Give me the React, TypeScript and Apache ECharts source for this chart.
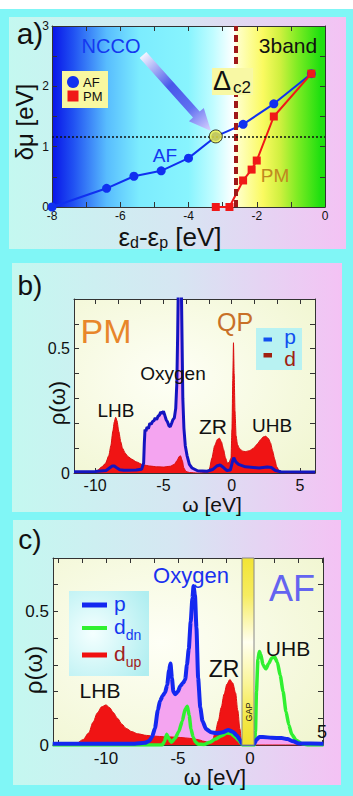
import React, { useEffect, useRef } from "react";
import * as echarts from "echarts";

const FONT = '"Liberation Sans", Arial, Helvetica, sans-serif';

// ---------------- Panel a : delta mu vs eps_d - eps_p ----------------
const afX = [-8, -6.4, -5.6, -4.8, -4.0, -3.2, -2.4, -1.5, -0.4];
const afY = [0, 0.31, 0.51, 0.6, 0.81, 1.17, 1.37, 1.71, 2.21];
const pmX = [-3.2, -2.8, -2.4, -2.15, -2.0, -1.5, -0.4];
const pmY = [0, 0, 0.44, 0.62, 0.77, 1.5, 2.21];
const nccoX = [-3.2];
const nccoY = [1.17];
const deltaC2 = -2.63;
const nccoLevel = 1.17;
const aXTicks = [-8, -7, -6, -5, -4, -3, -2, -1, 0];
const aXLabels = [-8, -6, -4, -2, 0];
const aYTicks = [0, 0.5, 1, 1.5, 2, 2.5, 3];
const aYLabels = [0, 1, 2, 3];

// ---------------- Panel b : PM spectral function ----------------
const bPx = [-11.55, -10.0, -9.2, -8.95, -8.75, -8.6, -8.45, -8.2, -7.9, -7.0, -6.6, -6.45, -6.4, -6.35, -6.28, -6.2, -6.1, -6.0, -5.9, -5.8, -5.7, -5.6, -5.5, -5.4, -5.3, -5.2, -5.1, -5.0, -4.9, -4.8, -4.7, -4.6, -4.5, -4.4, -4.3, -4.2, -4.1, -4.02, -3.96, -3.9, -3.7, -3.64, -3.58, -3.5, -3.4, -3.27, -3.1, -2.9, -2.5, -1.8, -1.4, -1.1, -0.85, -0.6, -0.35, -0.1, 0.05, 0.15, 0.3, 0.5, 1.0, 2.0, 2.6, 2.9, 3.2, 3.6, 6.1];
const bPy = [0.005, 0.006, 0.01, 0.02, 0.028, 0.028, 0.022, 0.013, 0.011, 0.012, 0.015, 0.04, 0.12, 0.175, 0.168, 0.185, 0.178, 0.2, 0.196, 0.207, 0.21, 0.222, 0.215, 0.228, 0.232, 0.245, 0.24, 0.248, 0.232, 0.214, 0.205, 0.19, 0.186, 0.2, 0.215, 0.222, 0.26, 0.36, 0.55, 0.8, 0.8, 0.55, 0.3, 0.18, 0.11, 0.07, 0.035, 0.02, 0.009, 0.007, 0.014, 0.028, 0.032, 0.022, 0.01, 0.012, 0.045, 0.062, 0.045, 0.035, 0.025, 0.02, 0.024, 0.022, 0.01, 0.005, 0.004];
const bDx = [-11.55, -10.2, -9.85, -9.5, -9.24, -9.0, -8.85, -8.7, -8.6, -8.5, -8.4, -8.27, -8.12, -8.0, -7.8, -7.6, -7.3, -7.0, -6.5, -6.0, -5.5, -5.0, -4.5, -4.2, -4.0, -3.85, -3.75, -3.62, -3.5, -3.35, -3.1, -2.5, -1.9, -1.65, -1.45, -1.25, -1.05, -0.9, -0.75, -0.6, -0.45, -0.32, -0.2, -0.05, 0.02, 0.08, 0.13, 0.18, 0.24, 0.32, 0.42, 0.55, 0.8, 1.0, 1.3, 1.6, 1.9, 2.1, 2.3, 2.5, 2.7, 2.85, 3.0, 3.15, 3.3, 3.5, 4.0, 6.1];
const bDy = [0, 0.002, 0.01, 0.025, 0.039, 0.07, 0.11, 0.17, 0.205, 0.224, 0.21, 0.167, 0.125, 0.1, 0.08, 0.066, 0.055, 0.045, 0.033, 0.028, 0.025, 0.024, 0.027, 0.035, 0.05, 0.066, 0.069, 0.05, 0.02, 0.006, 0.002, 0, 0.002, 0.012, 0.06, 0.11, 0.135, 0.14, 0.125, 0.095, 0.06, 0.04, 0.042, 0.06, 0.18, 0.38, 0.524, 0.4, 0.25, 0.15, 0.115, 0.1, 0.088, 0.086, 0.09, 0.1, 0.118, 0.133, 0.145, 0.148, 0.138, 0.12, 0.088, 0.055, 0.025, 0.006, 0, 0];
const bXTicks = [-10, -8.333, -6.667, -5, -3.333, -1.667, 0, 1.667, 3.333, 5];
const bXLabels = [-10, -5, 0, 5];
const rhoTicks = [0, 0.1, 0.2, 0.3, 0.4, 0.5, 0.6, 0.7];
const rhoLabels = [0, 0.5];

// ---------------- Panel c : AF spectral function ----------------
const cPx = [-13.7, -8.0, -7.3, -7.0, -6.8, -6.6, -6.4, -6.25, -6.05, -5.9, -5.75, -5.62, -5.52, -5.42, -5.32, -5.2, -5.0, -4.85, -4.65, -4.5, -4.38, -4.25, -4.12, -4.0, -3.92, -3.82, -3.72, -3.6, -3.45, -3.3, -3.05, -2.7, -2.3, -1.9, -1.5, -1.2, -0.9, -0.7, -0.55, 0.3, 0.45, 0.65, 0.9, 1.5, 2.2, 2.6, 3.0, 3.4, 5.1];
const cPy = [0.005, 0.005, 0.008, 0.015, 0.03, 0.063, 0.13, 0.165, 0.185, 0.196, 0.225, 0.28, 0.305, 0.25, 0.2, 0.19, 0.2, 0.22, 0.232, 0.245, 0.3, 0.36, 0.46, 0.55, 0.595, 0.56, 0.44, 0.25, 0.14, 0.09, 0.06, 0.048, 0.044, 0.048, 0.056, 0.05, 0.035, 0.02, 0.005, 0.005, 0.02, 0.03, 0.03, 0.027, 0.026, 0.022, 0.014, 0.006, 0.005];
const cUx = [-13.7, -12.5, -12.0, -11.6, -11.2, -10.9, -10.6, -10.3, -10.0, -9.75, -9.5, -9.2, -8.9, -8.6, -8.2, -7.8, -7.2, -6.6, -6.0, -5.4, -4.8, -4.2, -3.6, -3.2, -2.9, -2.6, -2.4, -2.2, -2.0, -1.8, -1.6, -1.4, -1.2, -1.0, -0.85, -0.7, -0.58, -0.5, 5.1];
const cUy = [0, 0.003, 0.008, 0.02, 0.045, 0.085, 0.12, 0.143, 0.15, 0.14, 0.122, 0.1, 0.078, 0.062, 0.05, 0.042, 0.036, 0.033, 0.031, 0.03, 0.028, 0.025, 0.02, 0.014, 0.01, 0.018, 0.05, 0.09, 0.14, 0.19, 0.228, 0.245, 0.232, 0.195, 0.13, 0.06, 0.01, 0, 0];
const cDx = [-13.7, -6.1, -5.95, -5.78, -5.62, -5.45, -5.2, -4.95, -4.7, -4.5, -4.35, -4.22, -4.1, -3.95, -3.8, -3.6, -3.2, -2.8, -2.4, -2.0, -1.6, -1.3, -1.0, -0.8, -0.6, -0.52, 0.3, 0.38, 0.45, 0.55, 0.65, 0.75, 0.9, 1.1, 1.3, 1.5, 1.7, 1.9, 2.1, 2.3, 2.5, 2.7, 2.9, 3.2, 3.6, 4.0, 5.1];
const cDy = [0, 0, 0.012, 0.04, 0.022, 0.01, 0.025, 0.05, 0.09, 0.135, 0.145, 0.11, 0.06, 0.03, 0.012, 0.003, 0.002, 0.01, 0.022, 0.034, 0.045, 0.042, 0.028, 0.017, 0.005, 0, 0, 0.05, 0.2, 0.32, 0.35, 0.34, 0.3, 0.285, 0.305, 0.325, 0.33, 0.31, 0.26, 0.2, 0.125, 0.075, 0.04, 0.018, 0.005, 0, 0];
const cXTicks = [-13.333, -11.667, -10, -8.333, -6.667, -5, -3.333, -1.667, 0, 1.667, 3.333, 5];
const cXLabels = [-10, -5, 0];

const zip = (xs: number[], ys: number[]) => xs.map((x, i) => [x, ys[i]]);

// grid rectangles (pixels)
const GA = { left: 52, top: 26, width: 273, height: 181 };
const GB = { left: 74, top: 299, width: 241, height: 174 };
const GC = { left: 53, top: 558, width: 270, height: 187 };

function axisPair(
  dim: "x" | "y",
  gi: number,
  min: number,
  max: number,
  ticks: number[],
  labels: number[],
  fs: number,
  margin: number
) {
  const base = (pos: string, showLabel: boolean) => ({
    type: "value",
    gridIndex: gi,
    min,
    max,
    position: pos,
    axisLine: { show: true, onZero: false, lineStyle: { color: "#333", width: 1 } },
    axisTick: { show: true, inside: true, length: 5, customValues: ticks, lineStyle: { color: "#333" } },
    axisLabel: {
      show: showLabel,
      customValues: labels,
      margin,
      fontSize: fs,
      color: "#111",
      fontFamily: FONT,
    },
    splitLine: { show: false },
  });
  return dim === "x"
    ? [base("bottom", true), base("top", false)]
    : [base("left", true), base("right", false)];
}

function text(x: number, y: number, t: string, size: number, color: string, extra: any = {}) {
  return {
    type: "text",
    x,
    y,
    z: 60,
    rotation: extra.rotation || 0,
    style: {
      text: t,
      fontSize: size,
      fontFamily: FONT,
      fontWeight: extra.weight || "normal",
      fill: color,
      align: extra.align || "center",
      verticalAlign: "middle",
      rich: extra.rich,
    },
  };
}

function subRich(main: number, sub: number, color: string, mainLH: number, pad: number) {
  return {
    m: { fontSize: main, fontFamily: FONT, fill: color, color, lineHeight: mainLH, verticalAlign: "top" },
    s: {
      fontSize: sub,
      fontFamily: FONT,
      fill: color,
      color,
      lineHeight: sub,
      verticalAlign: "top",
      padding: [pad, 0, 0, 0],
    },
  };
}

// arrow geometry (decoration)
const arrowTail = [143, 55];
const arrowTip = [211, 131];
function arrowPoints() {
  const dx = arrowTip[0] - arrowTail[0];
  const dy = arrowTip[1] - arrowTail[1];
  const L = Math.sqrt(dx * dx + dy * dy);
  const u = [dx / L, dy / L];
  const n = [-u[1], u[0]];
  const hw = 4.5, hh = 10, hl = 22;
  const N = [arrowTip[0] - u[0] * hl, arrowTip[1] - u[1] * hl];
  return [
    [arrowTail[0] + n[0] * hw, arrowTail[1] + n[1] * hw],
    [N[0] + n[0] * hw, N[1] + n[1] * hw],
    [N[0] + n[0] * hh, N[1] + n[1] * hh],
    arrowTip,
    [N[0] - n[0] * hh, N[1] - n[1] * hh],
    [N[0] - n[0] * hw, N[1] - n[1] * hw],
    [arrowTail[0] - n[0] * hw, arrowTail[1] - n[1] * hw],
  ];
}

const panelFill = {
  type: "linear",
  x: 0,
  y: 0,
  x2: 1,
  y2: 0,
  colorStops: [
    { offset: 0, color: "#c4f8f0" },
    { offset: 0.5, color: "#d6e6f2" },
    { offset: 1, color: "#f4c2f4" },
  ],
};

const creamFill = {
  type: "radial",
  x: 0.4,
  y: 0.45,
  r: 0.75,
  colorStops: [
    { offset: 0, color: "#fefff6" },
    { offset: 1, color: "#f1f6d2" },
  ],
};

function buildOption() {
  const xA = axisPair("x", 0, -8, 0, aXTicks, aXLabels, 12, 3);
  const yA = axisPair("y", 0, 0, 3, aYTicks, aYLabels, 12, 3);
  const xB = axisPair("x", 1, -11.55, 6.1, bXTicks, bXLabels, 16, 4);
  const yB = axisPair("y", 1, 0, 0.7, rhoTicks, rhoLabels, 16, 4);
  const xC = axisPair("x", 2, -13.68, 5.07, cXTicks, cXLabels, 17, 5);
  const yC = axisPair("y", 2, 0, 0.7, rhoTicks, rhoLabels, 17, 4);

  const graphic: any[] = [
    { type: "rect", z: -20, shape: { x: 0, y: 9, width: 353, height: 787 }, style: { fill: "#80f6f6" } },
    { type: "rect", z: -19, shape: { x: 9, y: 17, width: 337, height: 232 }, style: { fill: panelFill } },
    { type: "rect", z: -19, shape: { x: 12, y: 263, width: 330, height: 249 }, style: { fill: panelFill } },
    { type: "rect", z: -19, shape: { x: 13, y: 520, width: 328, height: 265 }, style: { fill: panelFill } },
    {
      type: "rect",
      z: -18,
      shape: { x: GA.left, y: GA.top, width: GA.width, height: GA.height },
      style: {
        fill: {
          type: "linear",
          x: 0,
          y: 0,
          x2: 1,
          y2: 0,
          colorStops: [
            { offset: 0, color: "#0814e8" },
            { offset: 0.077, color: "#2050f2" },
            { offset: 0.2, color: "#58bcfe" },
            { offset: 0.32, color: "#7cecfe" },
            { offset: 0.5, color: "#88f4fe" },
            { offset: 0.59, color: "#c0fcff" },
            { offset: 0.665, color: "#ffffff" },
            { offset: 0.68, color: "#ffffc8" },
            { offset: 0.773, color: "#fafa60" },
            { offset: 0.835, color: "#d0f040" },
            { offset: 0.897, color: "#80ec24" },
            { offset: 0.98, color: "#22e010" },
            { offset: 1, color: "#20e010" },
          ],
        },
      },
    },
    { type: "rect", z: -18, shape: { x: GB.left, y: GB.top, width: GB.width, height: GB.height }, style: { fill: creamFill } },
    { type: "rect", z: -18, shape: { x: GC.left, y: GC.top, width: GC.width, height: GC.height }, style: { fill: creamFill } },

    // ---- panel a decorations
    text(30, 33, "a)", 30, "#111"),
    text(111, 46, "NCCO", 20, "#1438f0"),
    text(288, 45, "3band", 21, "#111"),
    text(165, 155, "AF", 19, "#1438f0"),
    text(275, 175, "PM", 19, "#c08820"),
    {
      type: "polygon",
      z: 55,
      shape: { points: arrowPoints() },
      style: {
        fill: {
          type: "linear",
          x: arrowTail[0],
          y: arrowTail[1],
          x2: arrowTip[0],
          y2: arrowTip[1],
          global: true,
          colorStops: [
            { offset: 0, color: "#f4f4ff" },
            { offset: 0.4, color: "#4858ea" },
            { offset: 0.7, color: "#6070f0" },
            { offset: 1, color: "#dcd4ff" },
          ],
        },
      },
    },
    { type: "rect", z: 55, shape: { x: 62, y: 71, width: 46, height: 37 }, style: { fill: "#f8f8a0" } },
    { type: "circle", z: 56, shape: { cx: 73, cy: 82, r: 6 }, style: { fill: "#1030f0" } },
    { type: "rect", z: 56, shape: { x: 67.5, y: 90.5, width: 11, height: 11 }, style: { fill: "#f01818" } },
    text(83, 82, "AF", 13, "#111", { align: "left" }),
    text(83, 96, "PM", 13, "#111", { align: "left" }),
    { type: "rect", z: 55, shape: { x: 212, y: 68, width: 41, height: 27 }, style: { fill: "#f8f8a4" } },
    text(222, 81, "Δ", 27, "#111"),
    text(242, 87, "c2", 17, "#111"),
    text(170, 236, "{m|ε}{s|d}{m|-ε}{s|p}{m| [eV]}", 26, "#111", { rich: subRich(26, 16, "#111", 24, 10) }),
    text(24, 122, "δμ [eV]", 24, "#111", { rotation: Math.PI / 2 }),

    // ---- panel b decorations
    text(30, 285, "b)", 28, "#111"),
    text(106, 331, "PM", 34, "#e8862a"),
    text(235, 322, "QP", 25, "#c87028"),
    text(173, 373, "Oxygen", 19, "#111"),
    text(116, 410, "LHB", 19, "#111"),
    text(213, 426, "ZR", 21, "#111"),
    text(272, 425, "UHB", 19, "#111"),
    text(57, 403, "ρ(ω)", 22, "#111", { rotation: Math.PI / 2 }),
    text(212, 504, "ω [eV]", 21, "#111"),
    { type: "rect", z: 55, shape: { x: 256, y: 328, width: 46, height: 42 }, style: { fill: "#b8f2f2" } },
    { type: "rect", z: 56, shape: { x: 263.5, y: 337.5, width: 8.5, height: 4 }, style: { fill: "#1050f0" } },
    { type: "rect", z: 56, shape: { x: 263.5, y: 353, width: 8.5, height: 4.5 }, style: { fill: "#a02010" } },
    text(290, 336, "p", 21, "#1050f0"),
    text(290, 358, "d", 21, "#a02010"),

    // ---- panel c decorations
    text(30, 539, "c)", 28, "#111"),
    {
      type: "rect",
      z: 40,
      shape: { x: 242, y: GC.top, width: 12, height: GC.height },
      style: {
        fill: {
          type: "linear",
          x: 0,
          y: 0,
          x2: 0,
          y2: 1,
          colorStops: [
            { offset: 0, color: "#f2e434" },
            { offset: 0.2, color: "#f6ec60" },
            { offset: 0.45, color: "#fffff0" },
            { offset: 0.65, color: "#fbf6a0" },
            { offset: 0.85, color: "#f4e848" },
            { offset: 1, color: "#f0e030" },
          ],
        },
        stroke: "#888",
        lineWidth: 1,
      },
    },
    text(249, 712, "GAP", 9, "#111", { rotation: Math.PI / 2 }),
    text(191, 575, "Oxygen", 22, "#1a30f0"),
    text(292, 588, "AF", 36, "#6464f0"),
    text(288, 648, "UHB", 21, "#111"),
    text(224, 669, "ZR", 23, "#111"),
    text(100, 690, "LHB", 21, "#111"),
    text(322, 732, "5", 18, "#111"),
    text(33, 670, "ρ(ω)", 24, "#111", { rotation: Math.PI / 2 }),
    text(215, 777, "ω [eV]", 22, "#111"),
    {
      type: "rect",
      z: 55,
      shape: { x: 69, y: 591, width: 80, height: 85 },
      style: {
        fill: {
          type: "radial",
          x: 0.3,
          y: 0.5,
          r: 0.8,
          colorStops: [
            { offset: 0, color: "#f4ffff" },
            { offset: 1, color: "#b0eef0" },
          ],
        },
      },
    },
    { type: "line", z: 56, shape: { x1: 82, y1: 605, x2: 107, y2: 605 }, style: { stroke: "#1428f0", lineWidth: 5 } },
    { type: "line", z: 56, shape: { x1: 82, y1: 628, x2: 107, y2: 628 }, style: { stroke: "#30f030", lineWidth: 4 } },
    { type: "line", z: 56, shape: { x1: 82, y1: 655, x2: 107, y2: 655 }, style: { stroke: "#f01010", lineWidth: 5 } },
    text(114, 603, "p", 21, "#1438f0", { align: "left" }),
    text(114, 628, "{m|d}{s|dn}", 21, "#1438f0", { align: "left", rich: subRich(21, 14, "#1438f0", 25, 12) }),
    text(114, 655, "{m|d}{s|up}", 21, "#a02020", { align: "left", rich: subRich(21, 14, "#a02020", 25, 12) }),
  ];

  const series: any[] = [
    // panel a
    {
      type: "line",
      name: "AF",
      xAxisIndex: 0,
      yAxisIndex: 0,
      data: zip(afX, afY),
      symbol: "circle",
      symbolSize: 9,
      lineStyle: { color: "#1030f0", width: 2 },
      itemStyle: { color: "#1030f0" },
      z: 3,
      markLine: {
        silent: true,
        symbol: ["none", "none"],
        label: { show: false },
        data: [
          { xAxis: deltaC2, lineStyle: { color: "#a01818", width: 4, type: [7, 4] } },
          { yAxis: nccoLevel, lineStyle: { color: "#111", width: 1.5, type: [2, 2] } },
        ],
      },
    },
    {
      type: "line",
      name: "PM",
      xAxisIndex: 0,
      yAxisIndex: 0,
      data: zip(pmX, pmY),
      symbol: "rect",
      symbolSize: 8,
      lineStyle: { color: "#f01818", width: 2 },
      itemStyle: { color: "#f01818" },
      z: 4,
    },
    {
      type: "scatter",
      name: "NCCO",
      xAxisIndex: 0,
      yAxisIndex: 0,
      data: zip(nccoX, nccoY),
      symbolSize: 13,
      itemStyle: { color: "#f0f040", borderColor: "#111", borderWidth: 1 },
      z: 6,
    },
    // panel b
    {
      type: "line",
      xAxisIndex: 2,
      yAxisIndex: 2,
      data: zip(bPx, bPy),
      symbol: "none",
      lineStyle: { width: 0 },
      areaStyle: { color: "#f4a4f0", opacity: 1 },
      z: 2,
    },
    {
      type: "line",
      xAxisIndex: 2,
      yAxisIndex: 2,
      data: zip(bDx, bDy),
      symbol: "none",
      smooth: 0.2,
      smoothMonotone: "x",
      lineStyle: { width: 1, color: "#d81010" },
      areaStyle: { color: "#f01414", opacity: 1 },
      z: 3,
    },
    {
      type: "line",
      xAxisIndex: 2,
      yAxisIndex: 2,
      data: zip(bPx, bPy),
      symbol: "none",
      lineStyle: { width: 3, color: "#1414c0" },
      z: 4,
    },
    // panel c
    {
      type: "line",
      xAxisIndex: 4,
      yAxisIndex: 4,
      data: zip(cPx, cPy),
      symbol: "none",
      smooth: 0.2,
      smoothMonotone: "x",
      lineStyle: { width: 0 },
      areaStyle: { color: "#f4a4f0", opacity: 1 },
      z: 2,
    },
    {
      type: "line",
      xAxisIndex: 4,
      yAxisIndex: 4,
      data: zip(cUx, cUy),
      symbol: "none",
      smooth: 0.3,
      smoothMonotone: "x",
      lineStyle: { width: 1, color: "#e01010" },
      areaStyle: { color: "#f01414", opacity: 1 },
      z: 3,
    },
    {
      type: "line",
      xAxisIndex: 4,
      yAxisIndex: 4,
      data: zip(cDx, cDy),
      symbol: "none",
      smooth: 0.2,
      smoothMonotone: "x",
      lineStyle: { width: 3.5, color: "#30f030" },
      z: 4,
    },
    {
      type: "line",
      xAxisIndex: 4,
      yAxisIndex: 4,
      data: zip(cPx, cPy),
      symbol: "none",
      smooth: 0.2,
      smoothMonotone: "x",
      lineStyle: { width: 4, color: "#1428f0" },
      z: 5,
    },
  ];

  return {
    animation: false,
    backgroundColor: "#ffffff",
    textStyle: { fontFamily: FONT },
    grid: [
      { ...GA, containLabel: false },
      { ...GB, containLabel: false },
      { ...GC, containLabel: false },
    ],
    xAxis: [...xA, ...xB, ...xC],
    yAxis: [...yA, ...yB, ...yC],
    series,
    graphic: { elements: graphic },
  };
}

export default function App() {
  const ref = useRef<HTMLDivElement>(null);
  useEffect(() => {
    if (!ref.current) return;
    const chart = echarts.init(ref.current, null, { renderer: "svg" });
    chart.setOption(buildOption() as any);
    return () => chart.dispose();
  }, []);
  return (
    <div
      ref={ref}
      style={{ position: "absolute", left: 0, top: 0, width: 353, height: 796 }}
    />
  );
}
